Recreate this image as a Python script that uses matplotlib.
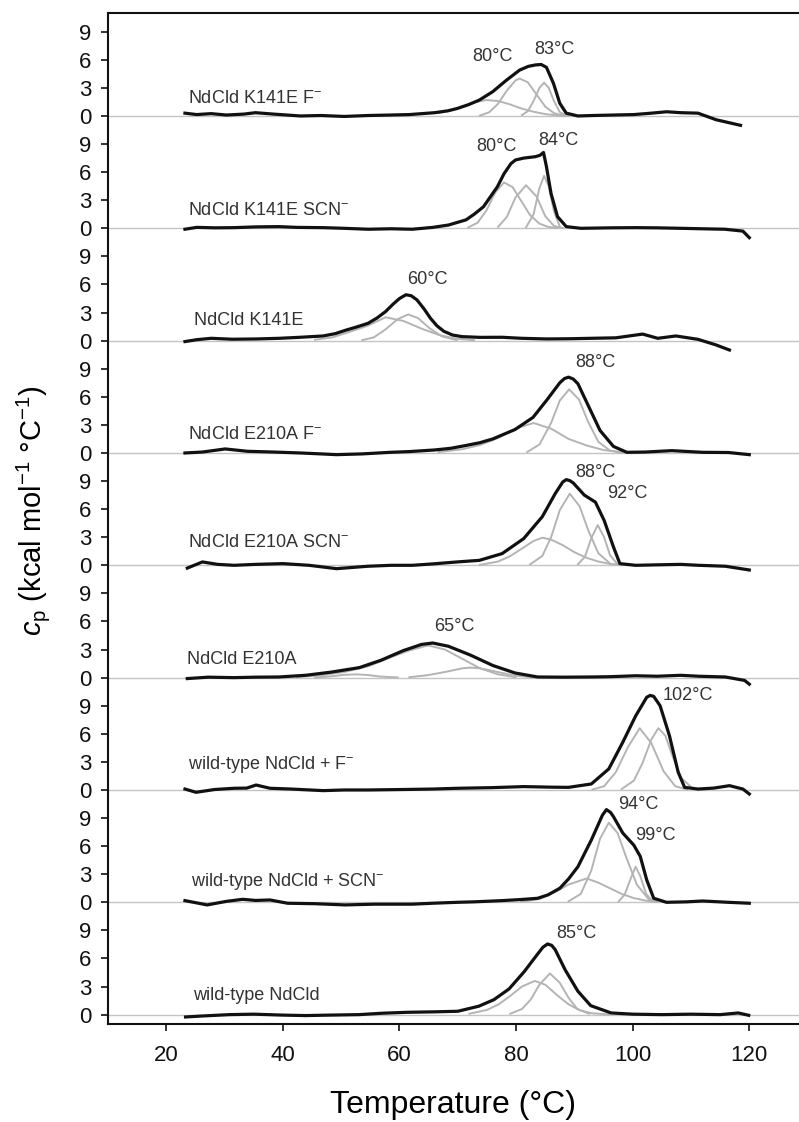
import numpy as np
import matplotlib
matplotlib.use("Agg")
import matplotlib.pyplot as plt

plt.rcParams['font.family'] = ['Liberation Sans', 'DejaVu Sans']
plt.rcParams['mathtext.fontset'] = 'custom'
plt.rcParams['mathtext.rm'] = 'Liberation Sans'
plt.rcParams['mathtext.it'] = 'Liberation Sans:italic'

# panel names, top to bottom
names = ["NdCld K141E F$^{-}$", "NdCld K141E SCN$^{-}$", "NdCld K141E",
         "NdCld E210A F$^{-}$", "NdCld E210A SCN$^{-}$", "NdCld E210A",
         "wild-type NdCld + F$^{-}$", "wild-type NdCld + SCN$^{-}$", "wild-type NdCld"]
name_x = [23.7, 23.7, 24.7, 23.7, 23.7, 23.6, 23.7, 24.3, 24.5]
name_y = [1.9, 1.9, 2.1, 1.95, 2.4, 1.95, 2.7, 2.2, 2.0]

# measured thermograms (T in degC, cp in kcal/mol/degC)
k141e_f_T = [23.2, 25.2, 27.7, 30.3, 33.3, 35.3, 38.4, 43.0, 46.5, 50.5, 54.6, 58.4, 61.7, 66.0, 68.3, 69.9, 71.8, 73.7, 76.0, 78.3,
             80.6, 82.1, 83.3, 84.3, 85.2, 86.4, 87.5, 88.6, 90.6, 93.1, 96.6, 100.2, 103.2, 105.8, 108.3, 111.2, 114.3, 116.4, 118.5]
k141e_f_cp = [0.3, 0.15, 0.25, 0.1, 0.2, 0.35, 0.2, 0.0, 0.05, -0.05, 0.05, 0.1, 0.15, 0.35, 0.55, 0.8, 1.2, 1.7, 2.6, 3.8,
              4.9, 5.3, 5.45, 5.5, 5.2, 3.5, 1.35, 0.3, 0.0, 0.05, 0.1, 0.15, 0.3, 0.45, 0.35, 0.3, -0.4, -0.7, -1.0]

k141e_scn_T = [23.2, 25.2, 28.3, 31.6, 35.3, 39.3, 42.4, 46.9, 50.5, 54.6, 58.6, 62.2, 65.7, 68.4, 71.4, 72.8, 74.4, 76.8, 77.9, 79.1,
               79.9, 81.3, 83.3, 84.1, 84.7, 85.2, 86.0, 87.1, 88.6, 91.1, 96.1, 100.5, 104.2, 108.2, 111.8, 115.8, 118.9, 120.0]
k141e_scn_cp = [-0.1, 0.1, 0.05, 0.07, 0.15, 0.18, 0.1, 0.07, 0.0, -0.1, -0.05, -0.1, 0.1, 0.35, 0.9, 1.5, 2.3, 4.45, 5.8, 6.9,
                7.3, 7.5, 7.65, 7.8, 8.1, 6.6, 3.7, 1.25, 0.18, 0.0, 0.05, 0.07, 0.05, 0.0, -0.05, -0.1, -0.3, -1.0]

k141e_T = [23.2, 25.2, 27.7, 31.3, 35.4, 39.4, 43.0, 46.9, 49.0, 50.7, 52.6, 54.6, 56.1, 57.6, 58.9, 60.0, 61.1, 62.0, 63.0, 64.2,
           65.3, 66.4, 67.6, 69.1, 70.7, 73.8, 77.6, 80.9, 85.2, 89.0, 92.9, 97.1, 101.7, 104.3, 107.4, 111.2, 114.3, 116.6]
k141e_cp = [-0.1, 0.1, 0.25, 0.15, 0.18, 0.25, 0.36, 0.5, 0.75, 1.1, 1.45, 1.85, 2.4, 3.1, 3.9, 4.5, 4.9, 4.8, 4.35, 3.4,
            2.4, 1.6, 1.0, 0.6, 0.43, 0.35, 0.36, 0.25, 0.18, 0.2, 0.25, 0.3, 0.7, 0.25, 0.5, 0.14, -0.46, -1.0]

e210a_f_T = [23.2, 26.2, 30.1, 33.9, 38.4, 43.0, 46.5, 49.2, 53.6, 58.4, 61.7, 66.0, 68.8, 71.4, 73.8, 76.0, 79.8, 82.9, 85.2, 87.5,
             88.3, 89.0, 89.8, 90.6, 92.5, 94.4, 96.7, 99.0, 102.2, 106.7, 112.0, 116.4, 120.0]
e210a_f_cp = [0.0, 0.1, 0.43, 0.18, 0.1, 0.0, -0.1, -0.18, -0.1, 0.07, 0.15, 0.32, 0.5, 0.8, 1.1, 1.5, 2.5, 3.8, 5.6, 7.5,
              7.95, 8.1, 7.9, 7.4, 4.9, 2.4, 0.7, 0.07, 0.1, 0.25, 0.07, 0.05, -0.18]

e210a_scn_T = [23.6, 26.2, 28.8, 31.6, 35.3, 40.0, 44.5, 49.2, 54.6, 58.6, 62.2, 65.7, 69.9, 73.7, 77.6, 81.3, 84.5, 86.7, 88.0, 88.6,
               89.2, 89.8, 91.7, 93.6, 95.1, 96.7, 97.8, 100.5, 104.2, 108.2, 111.3, 115.9, 120.0]
e210a_scn_cp = [-0.3, 0.36, 0.1, 0.0, 0.1, 0.18, 0.0, -0.36, -0.1, 0.0, 0.0, 0.15, 0.36, 0.53, 1.25, 2.85, 5.2, 7.65, 8.9, 9.15,
                9.05, 8.8, 7.5, 6.75, 4.8, 1.96, 0.18, 0.0, 0.05, 0.1, 0.0, -0.1, -0.5]

e210a_T = [23.6, 27.2, 31.6, 35.3, 39.3, 43.9, 48.4, 53.1, 56.8, 60.7, 63.8, 65.7, 68.4, 72.2, 76.0, 79.8, 83.7, 88.0, 92.9, 96.1,
           100.5, 104.2, 108.2, 111.3, 115.9, 119.2, 120.0]
e210a_cp = [-0.1, 0.05, 0.0, 0.05, 0.07, 0.25, 0.6, 1.07, 1.85, 2.9, 3.55, 3.7, 3.35, 2.4, 1.3, 0.5, 0.07, 0.05, 0.07, 0.1,
            0.2, 0.15, 0.25, 0.15, 0.07, -0.3, -0.7]

wt_f_T = [23.2, 25.1, 28.3, 31.6, 33.8, 35.4, 37.8, 41.4, 46.9, 50.5, 54.6, 60.7, 65.7, 69.9, 75.9, 81.3, 86.0, 89.0, 92.9, 95.9,
          98.3, 100.5, 102.4, 103.0, 103.6, 104.7, 106.3, 107.8, 108.9, 111.2, 113.9, 116.6, 118.9, 120.0]
wt_f_cp = [0.1, -0.25, 0.05, 0.18, 0.2, 0.53, 0.18, 0.1, -0.07, 0.0, 0.0, 0.05, 0.1, 0.18, 0.25, 0.36, 0.3, 0.28, 0.64, 2.25,
           5.1, 7.9, 9.9, 10.1, 10.0, 9.0, 5.8, 1.9, 0.28, 0.1, 0.2, 0.46, 0.1, -0.43]

wt_scn_T = [23.2, 27.0, 30.3, 33.1, 35.3, 37.8, 40.8, 45.5, 50.7, 55.6, 62.2, 65.7, 69.9, 72.8, 77.6, 80.9, 83.7, 85.5, 87.5, 89.0,
            90.6, 92.9, 94.8, 95.5, 96.2, 96.7, 98.3, 100.2, 101.3, 102.4, 103.6, 105.8, 109.3, 112.0, 116.4, 120.0]
wt_scn_cp = [0.18, -0.28, 0.1, 0.32, 0.2, 0.25, -0.1, -0.15, -0.28, -0.2, -0.2, -0.1, 0.0, 0.05, 0.18, 0.3, 0.43, 0.8, 1.5, 2.5,
             3.8, 6.65, 9.3, 9.9, 9.6, 9.15, 7.4, 6.1, 4.9, 2.4, 0.43, 0.0, 0.05, 0.14, 0.0, -0.1]

wt_T = [23.3, 26, 30.8, 35, 40, 43.9, 48, 53, 57, 61.3, 66, 70, 73.6, 76.2, 78.8, 81.4, 83.6, 84.6, 85.4, 86.1, 86.7, 88.4,
        90.6, 92.8, 96.3, 100, 105, 110, 115, 118.1, 119.9]
wt_cp = [-0.25, -0.15, 0.0, 0.05, -0.05, -0.1, -0.05, 0.0, 0.15, 0.25, 0.3, 0.36, 0.9, 1.6, 2.75, 4.6, 6.4, 7.2, 7.55, 7.4, 6.95, 4.8,
         2.5, 0.96, 0.18, 0.05, 0.0, 0.05, 0.0, 0.18, -0.07]

# deconvolved components (grey), as (T list, cp list)
k141e_f_comps = [
    ([66.7, 68.8, 70.8, 72.8, 74.9, 76.9, 78.9, 80.9, 83.0, 85.0, 87.0, 89.0], [0.3, 0.6, 1.0, 1.45, 1.7, 1.6, 1.25, 0.8, 0.45, 0.2, 0.07, 0.0]),
    ([73.8, 75.4, 76.9, 78.4, 79.9, 80.6, 82.0, 83.5, 85.0, 86.5, 88.0], [0.05, 0.4, 1.3, 2.7, 3.8, 4.0, 3.6, 2.3, 1.0, 0.3, 0.05]),
    ([81.0, 82.0, 83.0, 84.0, 84.8, 85.6, 86.5, 87.5, 88.6], [0.1, 0.5, 1.6, 3.0, 3.55, 3.0, 1.6, 0.4, 0.05]),
]
k141e_scn_comps = [
    ([71.8, 73.4, 74.9, 76.4, 77.9, 79.4, 80.9, 82.4, 84.0, 85.5, 87.0], [0.1, 0.6, 1.9, 3.8, 4.9, 4.4, 2.9, 1.4, 0.5, 0.15, 0.03]),
    ([76.9, 78.4, 79.9, 81.7, 83.5, 85.0, 86.5, 88.0], [0.15, 1.2, 3.3, 4.6, 3.4, 1.3, 0.25, 0.03]),
    ([81.7, 83.0, 84.0, 84.8, 85.6, 86.5, 87.5], [0.1, 1.5, 4.3, 5.6, 4.5, 1.8, 0.2]),
]
k141e_comps = [
    ([45.5, 48.5, 51.5, 54.6, 57.6, 60.7, 63.7, 66.8, 69.8, 72.8], [0.1, 0.35, 0.95, 1.6, 2.5, 2.1, 1.3, 0.6, 0.2, 0.05]),
    ([53.6, 55.6, 57.6, 59.7, 61.5, 63.2, 65.2, 67.3, 69.8], [0.05, 0.35, 1.2, 2.3, 2.8, 2.4, 1.3, 0.45, 0.05]),
]
e210a_f_comps = [
    ([66.7, 70.8, 73.8, 76.9, 79.9, 83.0, 86.0, 89.0, 92.1, 95.1, 98.1, 101.2], [0.1, 0.4, 0.85, 1.6, 2.6, 3.2, 2.6, 1.5, 0.8, 0.3, 0.1, 0.02]),
    ([81.9, 84.0, 86.0, 87.5, 89.1, 90.8, 92.3, 94.1, 96.1, 98.1], [0.1, 0.9, 3.2, 5.6, 6.8, 5.7, 3.4, 1.2, 0.25, 0.03]),
]
e210a_scn_comps = [
    ([73.8, 76.9, 78.9, 80.9, 83.0, 84.5, 86.0, 88.0, 90.0, 92.1, 94.1, 96.1, 99.2], [0.05, 0.4, 0.95, 1.75, 2.6, 2.95, 2.75, 2.15, 1.4, 0.8, 0.4, 0.15, 0.02]),
    ([82.4, 84.5, 86.0, 87.5, 89.2, 90.9, 92.4, 94.1, 96.1], [0.1, 1.0, 3.0, 5.9, 7.65, 6.3, 3.7, 1.3, 0.2]),
    ([90.6, 91.8, 92.9, 94.0, 95.1, 96.1, 97.4], [0.1, 0.9, 2.9, 4.3, 3.0, 1.1, 0.1]),
]
e210a_comps = [
    ([42.4, 46.5, 50.5, 54.6, 58.6, 61.7, 64.9, 67.8, 70.8, 73.8, 76.9, 79.9], [0.05, 0.25, 0.6, 1.2, 2.2, 2.9, 3.45, 3.0, 2.0, 1.0, 0.35, 0.05]),
    ([61.7, 64.7, 67.8, 70.8, 72.2, 73.8, 76.9, 79.9, 83.0], [0.05, 0.25, 0.6, 1.0, 1.07, 1.0, 0.6, 0.2, 0.03]),
    ([45.5, 48.5, 50.5, 52.6, 54.6, 56.6, 59.7], [0.02, 0.15, 0.3, 0.35, 0.28, 0.12, 0.02]),
]
wt_f_comps = [
    ([93.1, 95.1, 97.1, 99.2, 101.2, 103.2, 105.3, 107.3, 109.3], [0.05, 0.4, 1.9, 4.6, 6.6, 5.0, 2.0, 0.4, 0.05]),
    ([98.1, 100.2, 101.7, 103.2, 104.4, 105.6, 106.9, 108.3, 110.3, 112.3], [0.1, 1.0, 2.9, 5.4, 6.6, 5.8, 3.5, 1.3, 0.15, 0.02]),
]
wt_scn_comps = [
    ([80.9, 84.0, 87.0, 89.0, 92.1, 94.1, 96.1, 98.1, 100.2, 102.2, 104.2], [0.05, 0.35, 1.2, 1.9, 2.55, 2.1, 1.5, 0.9, 0.45, 0.18, 0.05]),
    ([89.0, 91.1, 92.9, 94.4, 95.9, 97.4, 98.9, 100.7, 102.7, 104.2], [0.1, 0.9, 3.4, 6.8, 8.5, 7.4, 4.8, 1.9, 0.35, 0.05]),
    ([97.6, 98.6, 99.7, 100.5, 101.3, 102.3, 103.4], [0.1, 0.8, 2.6, 3.8, 2.8, 0.9, 0.1]),
]
wt_comps = [
    ([72, 75, 77, 79, 81, 83.2, 85, 87, 89, 91, 93, 96], [0.1, 0.5, 1.1, 2.0, 3.0, 3.6, 3.2, 2.1, 1.1, 0.45, 0.15, 0.02]),
    ([79, 81, 82.5, 84, 85.8, 87.5, 89, 90.5, 92.5], [0.1, 0.6, 1.6, 3.2, 4.4, 3.4, 1.8, 0.6, 0.1]),
]

# peak annotations: (T, cp above panel baseline, text)
peaks = [
    [(76.0, 6.3, "80°C"), (86.5, 7.05, "83°C")],
    [(76.6, 8.7, "80°C"), (87.2, 9.4, "84°C")],
    [(64.7, 6.55, "60°C")],
    [(93.6, 9.7, "88°C")],
    [(93.6, 9.96, "88°C"), (99.0, 7.65, "92°C")],
    [(69.4, 5.5, "65°C")],
    [(109.4, 10.07, "102°C")],
    [(100.9, 10.4, "94°C"), (103.9, 7.1, "99°C")],
    [(90.4, 8.7, "85°C")],
]

black_T = [k141e_f_T, k141e_scn_T, k141e_T, e210a_f_T, e210a_scn_T, e210a_T, wt_f_T, wt_scn_T, wt_T]
black_cp = [k141e_f_cp, k141e_scn_cp, k141e_cp, e210a_f_cp, e210a_scn_cp, e210a_cp, wt_f_cp, wt_scn_cp, wt_cp]
comps = [k141e_f_comps, k141e_scn_comps, k141e_comps, e210a_f_comps, e210a_scn_comps, e210a_comps,
         wt_f_comps, wt_scn_comps, wt_comps]

step = 12
n = len(names)

fig = plt.figure(figsize=(7.99, 11.22), dpi=100)
ax = fig.add_axes([108/799, 1 - 1024/1122, 1 - 108/799, (1024 - 13)/1122])

for i in range(n):
    off = (n - 1 - i) * step
    ax.axhline(off, color='#c4c4c4', lw=1.0, zorder=1)
    for cT, ccp in comps[i]:
        ax.plot(cT, np.array(ccp) + off, color='#b4b4b4', lw=1.4, zorder=2)
    ax.plot(black_T[i], np.array(black_cp[i]) + off, color='#111111', lw=2.3, zorder=3,
            solid_joinstyle='round')
    ax.text(name_x[i], off + name_y[i], names[i], fontsize=13, color='#333333', va='center', ha='left')
    for pt, pc, ptxt in peaks[i]:
        ax.text(pt, off + pc, ptxt, fontsize=13, color='#333333', va='center', ha='center')

yt = []
ytl = []
for i in range(n):
    for v in [0, 3, 6, 9]:
        yt.append(i * step + v)
        ytl.append(str(v))
ax.set_yticks(yt)
ax.set_yticklabels(ytl)
ax.set_xticks([20, 40, 60, 80, 100, 120])
ax.set_xlim(10, 10 + (799 - 108) / 5.83)
ax.set_ylim(-1, 107)

ax.spines['right'].set_visible(False)
for s in ['left', 'top', 'bottom']:
    ax.spines[s].set_linewidth(1.5)
    ax.spines[s].set_color('#111111')
ax.tick_params(axis='y', direction='out', length=5, width=1.2, labelsize=16, pad=7, colors='#111111')
ax.tick_params(axis='x', direction='out', length=5, width=1.2, labelsize=16, pad=10, colors='#111111')

ax.set_xlabel("Temperature (°C)", fontsize=23)
ax.xaxis.set_label_coords(0.5, -0.08)
ax.xaxis.label.set_va('center')
ax.set_ylabel(r"$c_\mathrm{p}$ (kcal mol$^{-1}$ °C$^{-1}$)", fontsize=21)
ax.yaxis.set_label_coords(-0.1085, 0.508)
ax.yaxis.label.set_va('center')

fig.savefig("out.png", dpi=100)
